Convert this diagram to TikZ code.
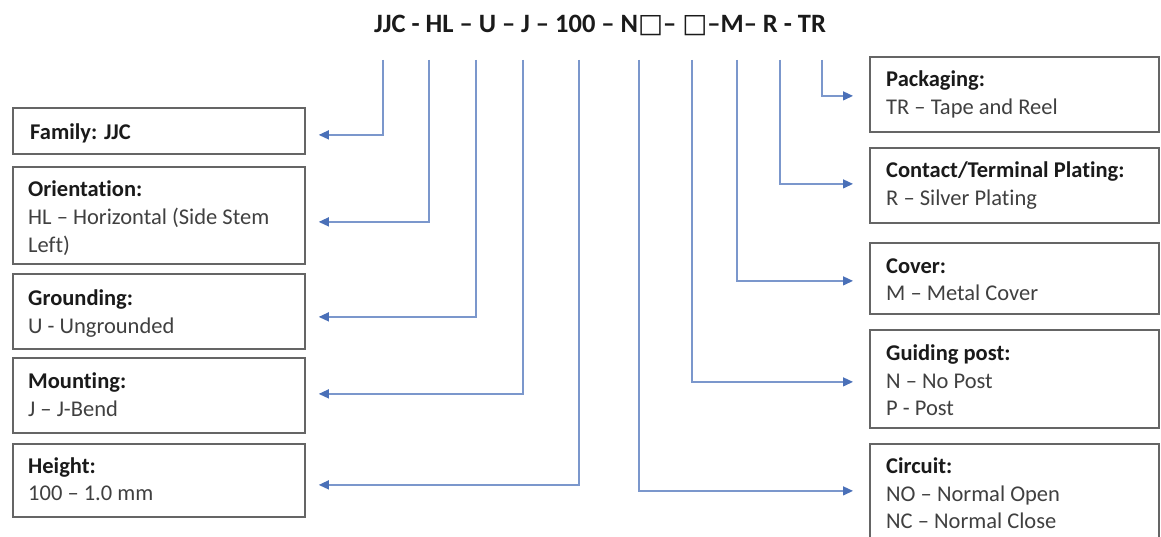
\documentclass[tikz,border=0pt]{standalone}
\usepackage{fontspec}
\setmainfont{Carlito}[Ligatures=NoCommon]
\newfontfamily\symfont{DejaVu Sans}
\usetikzlibrary{arrows.meta,calc}
\definecolor{boxline}{HTML}{656565}
\definecolor{conline}{HTML}{7B97CC}
\definecolor{tipblue}{HTML}{4A70B8}
\definecolor{bodytext}{HTML}{404040}
\definecolor{headtext}{HTML}{1A1A1A}
\tikzset{
  box/.style={draw=boxline, line width=1.8pt, rectangle, inner sep=0pt, anchor=north west},
  head/.style={anchor=base west, inner sep=0pt, font=\fontsize{22.5}{28}\selectfont\bfseries, text=headtext},
  body/.style={anchor=base west, inner sep=0pt, font=\fontsize{22.5}{28}\selectfont, text=bodytext},
  conn/.style={draw=conline, line width=1.3pt, -{Triangle[length=10pt,width=9pt,color=tipblue]}},
}
\begin{document}
\begin{tikzpicture}[x=1pt,y=-1pt]
\useasboundingbox[fill=white] (0,0) rectangle (1161,537);
% title
\node[anchor=base, inner sep=0pt, font=\fontsize{26.5}{30}\selectfont\bfseries, text=headtext] (title) at (600,33)
  {JJC - HL -- U -- J -- 100 -- N{\symfont □}-- {\symfont □}--M-- R - TR};
% left boxes
\node[box, minimum width=292pt, minimum height=46pt] (fam) at (12,107) {};
\node[box, minimum width=292pt, minimum height=97pt] (ori) at (12,166) {};
\node[box, minimum width=292pt, minimum height=75pt] (gro) at (12,273) {};
\node[box, minimum width=292pt, minimum height=75pt] (mou) at (12,357) {};
\node[box, minimum width=292pt, minimum height=73pt] (hei) at (12,443) {};
% right boxes
\node[box, minimum width=289pt, minimum height=75pt] (pac) at (869,56) {};
\node[box, minimum width=289pt, minimum height=75pt] (con) at (869,147) {};
\node[box, minimum width=289pt, minimum height=71pt] (cov) at (869,242) {};
\node[box, minimum width=289pt, minimum height=98pt] (gui) at (869,329) {};
\node[box, minimum width=289pt, minimum height=104pt] (cir) at (869,443) {};
% left texts
\node[head] (famh) at (30,140) {Family: JJC};
\node[head] (orih) at (28,197) {Orientation:};
\node[body] (orib1) at (28,225) {HL -- Horizontal (Side Stem};
\node[body] (orib2) at (28,253) {Left)};
\node[head] (groh) at (28,305) {Grounding:};
\node[body] (grob) at (28,333) {U - Ungrounded};
\node[head] (mouh) at (28,388) {Mounting:};
\node[body] (moub) at (28,416) {J -- J-Bend};
\node[head] (heih) at (28,473) {Height:};
\node[body] (heib) at (28,500) {100 -- 1.0 mm};
% right texts
\node[head] (pach) at (886,87) {Packaging:};
\node[body] (pacb) at (886,115) {TR -- Tape and Reel};
\node[head] (conh) at (886,178) {Contact/Terminal Plating:};
\node[body] (conb) at (886,206) {R -- Silver Plating};
\node[head] (covh) at (886,273) {Cover:};
\node[body] (covb) at (886,300) {M -- Metal Cover};
\node[head] (guih) at (886,360) {Guiding post:};
\node[body] (guib1) at (886,388) {N -- No Post};
\node[body] (guib2) at (886,415) {P - Post};
\node[head] (cirh) at (886,473) {Circuit:};
\node[body] (cirb1) at (886,501) {NO -- Normal Open};
\node[body] (cirb2) at (886,528) {NC -- Normal Close};
% connector start points under the code
\coordinate (sJJC) at (383,60);
\coordinate (sHL) at (429,60);
\coordinate (sU) at (476,60);
\coordinate (sJ) at (523,60);
\coordinate (s100) at (579,60);
\coordinate (sN) at (639,60);
\coordinate (sP) at (692,60);
\coordinate (sM) at (737,60);
\coordinate (sR) at (780,60);
\coordinate (sTR) at (822,60);
% connectors
\draw[conn] (sJJC) |- ($(fam.east)+(13,4)$);
\draw[conn] (sHL) |- ($(ori.east)+(13,6.5)$);
\draw[conn] (sU) |- ($(gro.east)+(13,5.5)$);
\draw[conn] (sJ) |- ($(mou.east)+(13,-1.5)$);
\draw[conn] (s100) |- ($(hei.east)+(13,4.5)$);
\draw[conn] (sN) |- ($(cir.west)+(-16,-5)$);
\draw[conn] (sP) |- ($(gui.west)+(-16,3)$);
\draw[conn] (sM) |- ($(cov.west)+(-16,2.5)$);
\draw[conn] (sR) |- ($(con.west)+(-16,-1.5)$);
\draw[conn] (sTR) |- ($(pac.west)+(-16,1.5)$);
\end{tikzpicture}
\end{document}
